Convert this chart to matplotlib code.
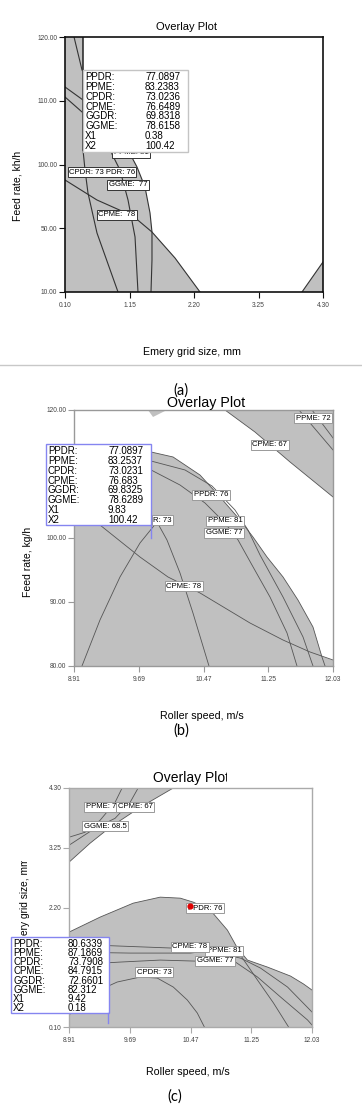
import matplotlib.pyplot as plt
from matplotlib.lines import Line2D
from matplotlib.patches import Rectangle
from matplotlib.transforms import Bbox

W, H = 362, 1106
plt.rcParams['font.family'] = ['Liberation Sans', 'DejaVu Sans']

GREY = '#c0c0c0'
BLUE = '#8585f0'

names = ['PPDR:', 'PPME:', 'CPDR:', 'CPME:', 'GGDR:', 'GGME:', 'X1', 'X2']

# (a) emery grid size / feed rate
a_xticks = [0.10, 1.15, 2.20, 3.25, 4.30]
a_xlabels = ['0.10', '1.15', '2.20', '3.25', '4.30']
a_yticks = [80, 90, 100, 110, 120]
a_ylabels = ['10.00', '50.00', '100.00', '110.00', '120.00']
a_values = ['77.0897', '83.2383', '73.0236', '76.6489', '69.8318', '78.6158', '0.38', '100.42']
a_edge_x = [0.393, 0.393, 1.126, 1.272, 1.402, 1.484, 1.516, 1.891, 2.298]
a_edge_y = [120, 102.27, 102.27, 99.61, 96.47, 92.39, 89.41, 85.33, 80]
a_corner_x = [3.958, 4.30, 4.30]
a_corner_y = [80, 84.71, 80]
a_cpme_x = [0.10, 0.621, 1.207, 1.516, 1.891, 2.298]
a_cpme_y = [97.57, 94.43, 91.92, 89.41, 85.33, 80]
a_cpdr_x = [0.393, 0.426, 0.474, 0.621, 0.963]
a_cpdr_y = [102.27, 99.14, 95.53, 89.25, 80]
a_ppdr_x = [0.833, 0.995, 1.126, 1.240, 1.288]
a_ppdr_y = [102.27, 99.14, 94.43, 88.63, 80]
a_ggme_x = [1.126, 1.272, 1.402, 1.484, 1.516, 1.516, 1.500]
a_ggme_y = [102.27, 99.61, 96.47, 92.39, 89.41, 85.02, 80]
a_top_x, a_top_y = [0.247, 0.377], [120, 114.82]
a_mid1_x, a_mid1_y = [0.10, 0.393], [112.16, 110.12]
a_mid2_x, a_mid2_y = [0.10, 0.377], [110.59, 108.24]

# (b) roller speed / feed rate
b_xticks = [8.91, 9.69, 10.47, 11.25, 12.03]
b_xlabels = ['8.91', '9.69', '10.47', '11.25', '12.03']
b_yticks = [80, 90, 100, 110, 120]
b_ylabels = ['80.00', '90.00', '100.00', '', '120.00']   # 110.00 sits under the readout box
b_values = ['77.0897', '83.2537', '73.0231', '76.683', '69.8325', '78.6289', '9.83', '100.42']
b_dome_x = [8.91, 9.344, 9.838, 10.103, 10.428, 10.669, 10.910, 11.066, 11.235, 11.428, 11.608, 11.789, 11.897, 11.934]
b_dome_y = [111.88, 113.44, 113.44, 112.66, 109.84, 106.41, 102.81, 100.16, 97.03, 93.91, 90.31, 86.09, 81.41, 80]
b_band_x = [10.729, 11.090, 11.512, 12.03]
b_band_y = [120, 116.56, 111.88, 106.41]
b_notch_x = [9.801, 9.862, 10.030]
b_notch_y = [120, 118.91, 120]
b_cpme_x = [8.91, 9.223, 9.705, 10.042, 10.428, 11.030, 11.428, 11.753, 12.03]
b_cpme_y = [105.16, 102.03, 97.03, 93.91, 91.41, 86.72, 84.06, 82.19, 80.94]
b_cpdr_x = [9.006, 9.223, 9.464, 9.705, 9.910, 10.030, 10.187, 10.343, 10.536]
b_cpdr_y = [80, 87.19, 93.91, 99.22, 102.5, 99.69, 94.53, 88.28, 80]
b_ppdr_x = [9.838, 10.187, 10.488, 10.729, 10.886, 11.054, 11.271, 11.476, 11.596]
b_ppdr_y = [110.63, 108.28, 105.47, 102.34, 99.69, 95.78, 90.78, 85.16, 80]
b_ppme_x = [9.838, 10.247, 10.572, 10.849, 11.006, 11.151, 11.428, 11.669, 11.789]
b_ppme_y = [112.03, 110.63, 108.13, 104.38, 101.25, 97.34, 90.78, 84.53, 80]
b_p72a_x, b_p72a_y = [11.620, 12.03], [120, 113.75]
b_p72b_x, b_p72b_y = [11.777, 12.03], [120, 115.63]

# (c) roller speed / emery grid size
c_xticks = b_xticks
c_xlabels = b_xlabels
c_yticks = [0.10, 1.15, 2.20, 3.25, 4.30]
c_ylabels = ['0.10', '', '2.20', '3.25', '4.30']   # 1.15 sits under the readout box
c_values = ['80.6339', '87.1869', '73.7908', '84.7915', '72.6601', '82.312', '9.42', '0.18']
c_top_x = [10.249, 9.824, 9.438, 9.180, 8.91]
c_top_y = [4.30, 3.961, 3.610, 3.329, 2.996]
c_topa_x = [9.592, 9.502, 9.309, 9.116, 8.91]
c_topa_y = [4.30, 4.049, 3.733, 3.522, 3.435]
c_topb_x = [9.798, 9.695, 9.502, 9.245, 8.91]
c_topb_y = [4.30, 4.049, 3.768, 3.593, 3.294]
c_dome_x = [8.91, 9.309, 9.734, 10.081, 10.339, 10.506, 10.725, 10.944, 11.072, 11.201, 11.458, 11.754, 11.922, 12.03]
c_dome_y = [1.767, 2.031, 2.276, 2.382, 2.364, 2.294, 2.153, 1.802, 1.487, 1.276, 1.153, 0.995, 0.855, 0.749]
c_cpdr_x = [8.91, 9.219, 9.528, 9.824, 10.043, 10.249, 10.429, 10.557, 10.648]
c_cpdr_y = [0.311, 0.697, 0.890, 0.978, 0.960, 0.802, 0.574, 0.346, 0.10]
c_cpme_x = [8.91, 9.566, 10.236, 10.712, 11.111, 11.330, 11.536, 11.729]
c_cpme_y = [1.557, 1.522, 1.487, 1.451, 1.364, 0.925, 0.521, 0.10]
c_ppme_x = [8.91, 9.695, 10.467, 10.686, 11.111, 11.368, 11.716, 12.03]
c_ppme_y = [1.416, 1.399, 1.399, 1.434, 1.311, 1.136, 0.802, 0.363]
c_ggme_x = [8.91, 9.566, 10.081, 10.532, 11.047, 11.330, 11.626, 11.973, 12.03]
c_ggme_y = [1.188, 1.241, 1.276, 1.258, 1.241, 0.978, 0.627, 0.223, 0.135]
c_opt_x, c_opt_y = [10.467], [2.224]

fig = plt.figure(figsize=(W / 100, H / 100), dpi=100)


def frame(left, top, right, bottom):
    return [left / W, 1 - bottom / H, (right - left) / W, (bottom - top) / H]


def put(x, y, s, **kw):
    return fig.text(x / W, 1 - y / H, s, **kw)


def clip(t, left=0, top=0, right=W, bottom=H):
    # keep only the part of a text inside a pixel rectangle
    t.set_clip_box(Bbox([[left, H - bottom], [right, H - top]]))
    return t


def tag(ax, x, y, s, ec='#777', size=5.6, ha='center'):
    return ax.text(x / W, 1 - y / H, s, transform=fig.transFigure, fontsize=size, ha=ha, va='center',
                   zorder=3, bbox=dict(boxstyle='square,pad=0.18', fc='white', ec=ec, lw=0.7))


def readout(left, top, right, bottom, vals, ec, vx, step):
    fig.add_artist(Rectangle((left / W, 1 - bottom / H), (right - left) / W, (bottom - top) / H,
                             transform=fig.transFigure, fc='white', ec=ec, lw=1, zorder=5))
    for i, (n, v) in enumerate(zip(names, vals)):
        y = top + 7 + i * step
        put(left + 2, y, n, fontsize=7, va='center', zorder=6)
        put(vx, y, v, fontsize=7, va='center', zorder=6)


def style(ax, xt, xl, yt, yl, col, lw):
    ax.set_xlim(xt[0], xt[-1])
    ax.set_ylim(yt[0], yt[-1])
    ax.set_xticks(xt, xl)
    ax.set_yticks(yt, yl)
    ax.tick_params(length=4.5, width=0.8, pad=1, labelsize=4.8, labelcolor='#444', color=col)
    ax.tick_params(axis='x', pad=3)
    for s in ax.spines.values():
        s.set_color(col)
        s.set_linewidth(lw)


line_kw = dict(color='#333', lw=0.8, zorder=2)
thin = dict(color='#555', lw=0.6, zorder=2)

# ---------- (a)
ax = fig.add_axes(frame(65, 37, 323, 292))
style(ax, a_xticks, a_xlabels, a_yticks, a_ylabels, '#111', 1.2)
ax.fill([a_xticks[0]] + a_edge_x + [a_xticks[0]], [a_yticks[-1]] + a_edge_y + [a_yticks[0]], color=GREY, lw=0, zorder=1)
ax.fill(a_corner_x, a_corner_y, color=GREY, lw=0, zorder=1)
ax.plot(a_corner_x[:2], a_corner_y[:2], **line_kw)
ax.plot(a_edge_x[:2], a_edge_y[:2], color='#222', lw=1.1, zorder=2)
for xs, ys in [(a_cpme_x, a_cpme_y), (a_cpdr_x, a_cpdr_y), (a_ppdr_x, a_ppdr_y), (a_ggme_x, a_ggme_y),
               (a_top_x, a_top_y), (a_mid1_x, a_mid1_y), (a_mid2_x, a_mid2_y)]:
    ax.plot(xs, ys, **line_kw)
clip(tag(ax, 131, 153, 'PPME: 81', ec='#333'), top=152.5)
tag(ax, 102, 172, 'CPDR: 73 PDR: 76', ec='#333')
tag(ax, 128, 185, 'GGME:  77', ec='#333')
tag(ax, 117, 215, 'CPME:  78', ec='#333')
readout(83, 70, 188, 152, a_values, '#c4c4c4', 145, 9.86)
put(187, 27, 'Overlay Plot', fontsize=8, ha='center', va='center')
put(17, 186, 'Feed rate, kh/h', fontsize=7.5, rotation=90, ha='center', va='center')
put(192, 352, 'Emery grid size, mm', fontsize=7.7, ha='center', va='center')
fig.add_artist(Line2D([0, 1], [1 - 365 / H] * 2, transform=fig.transFigure, color='#c8c8c8', lw=1))
put(181, 391, '(a)', fontsize=10.5, family='Lato', ha='center', va='center')

# ---------- (b)
ax = fig.add_axes(frame(74, 410, 333, 666))
style(ax, b_xticks, b_xlabels, b_yticks, b_ylabels, '#999', 1.0)
ax.fill([b_xticks[0]] + b_dome_x + [b_xticks[0]], [b_yticks[0]] + b_dome_y + [b_yticks[0]], color=GREY, lw=0, zorder=1)
ax.fill_between(b_cpme_x, b_yticks[0], b_cpme_y, color=GREY, lw=0, zorder=1)
ax.fill(b_band_x + [b_xticks[-1]], b_band_y + [b_yticks[-1]], color=GREY, lw=0, zorder=1)
ax.fill(b_notch_x, b_notch_y, color=GREY, lw=0, zorder=1)
for xs, ys in [(b_dome_x, b_dome_y), (b_band_x, b_band_y), (b_cpme_x, b_cpme_y), (b_cpdr_x, b_cpdr_y),
               (b_ppdr_x, b_ppdr_y), (b_ppme_x, b_ppme_y), (b_p72a_x, b_p72a_y), (b_p72b_x, b_p72b_y)]:
    ax.plot(xs, ys, **thin)
tag(ax, 153, 520, 'R: 73', ec='#999', ha='left')   # rest of "CPDR: 73" hidden by the readout
tag(ax, 211, 495, 'PPDR: 76', ec='#999')
tag(ax, 225, 521, 'PPME: 81', ec='#999')
tag(ax, 224, 533, 'GGME: 77', ec='#999')
tag(ax, 184, 586, 'CPME: 78', ec='#999')
tag(ax, 270, 445, 'CPME: 67', ec='#999')
tag(ax, 313, 418, 'PPME: 72', ec='#999')
readout(46, 444, 151, 525, b_values, BLUE, 108, 9.86)
fig.add_artist(Line2D([151 / W] * 2, [1 - 525 / H, 1 - 538 / H], transform=fig.transFigure, color=BLUE, lw=1, zorder=5))
put(206, 403, 'Overlay Plot', fontsize=10.3, ha='center', va='center')
put(28, 562, 'Feed rate, kg/h', fontsize=7.5, rotation=90, ha='center', va='center')
put(202, 716, 'Roller speed, m/s', fontsize=7.7, ha='center', va='center')
put(181, 731, '(b)', fontsize=10.5, family='Lato', ha='center', va='center')

# ---------- (c)
ax = fig.add_axes(frame(69, 788, 312, 1027))
style(ax, c_xticks, c_xlabels, c_yticks, c_ylabels, '#aaa', 1.0)
ax.fill(c_top_x + [c_xticks[0]], c_top_y + [c_yticks[-1]], color=GREY, lw=0, zorder=1)
ax.fill([c_xticks[0]] + c_dome_x + [c_xticks[-1], c_xticks[0]],
        [c_yticks[0]] + c_dome_y + [c_yticks[0], c_yticks[0]], color=GREY, lw=0, zorder=1)
for xs, ys in [(c_top_x, c_top_y), (c_topa_x, c_topa_y), (c_topb_x, c_topb_y), (c_dome_x, c_dome_y),
               (c_cpdr_x, c_cpdr_y), (c_cpme_x, c_cpme_y), (c_ppme_x, c_ppme_y), (c_ggme_x, c_ggme_y)]:
    ax.plot(xs, ys, **thin)
clip(tag(ax, 103, 807, 'PPME: 72', ec='#999'), right=116)
tag(ax, 135, 807, 'CPME: 67', ec='#999')
tag(ax, 105, 826, 'GGME: 68.5', ec='#999')
tag(ax, 205, 908, 'PPDR: 76', ec='#999')
clip(tag(ax, 224, 951, 'PPME: 81', ec='#999'), left=209.5)
tag(ax, 190, 947, 'CPME: 78', ec='#999')
tag(ax, 215, 961, 'GGME: 77', ec='#999')
tag(ax, 154, 972, 'CPDR: 73', ec='#999')
ax.plot(c_opt_x, c_opt_y, 'o', color='#e00000', ms=3.5, zorder=5)
readout(11, 937, 109, 1013, c_values, BLUE, 68, 9.14)
fig.add_artist(Line2D([108 / W] * 2, [1 - 1013 / H, 1 - 1023 / H], transform=fig.transFigure, color=BLUE, lw=1, zorder=5))
clip(put(191, 778, 'Overlay Plot', fontsize=10, ha='center', va='center'), right=227)
# the start of "Emery" is hidden by the readout box
clip(put(25, 935, 'ery grid size, mm', fontsize=7.3, rotation=90, ha='center', va='bottom'), top=861)
put(188, 1072, 'Roller speed, m/s', fontsize=7.7, ha='center', va='center')
put(175, 1097, '(c)', fontsize=10.5, family='Lato', ha='center', va='center')

fig.savefig('out.png', dpi=100)
